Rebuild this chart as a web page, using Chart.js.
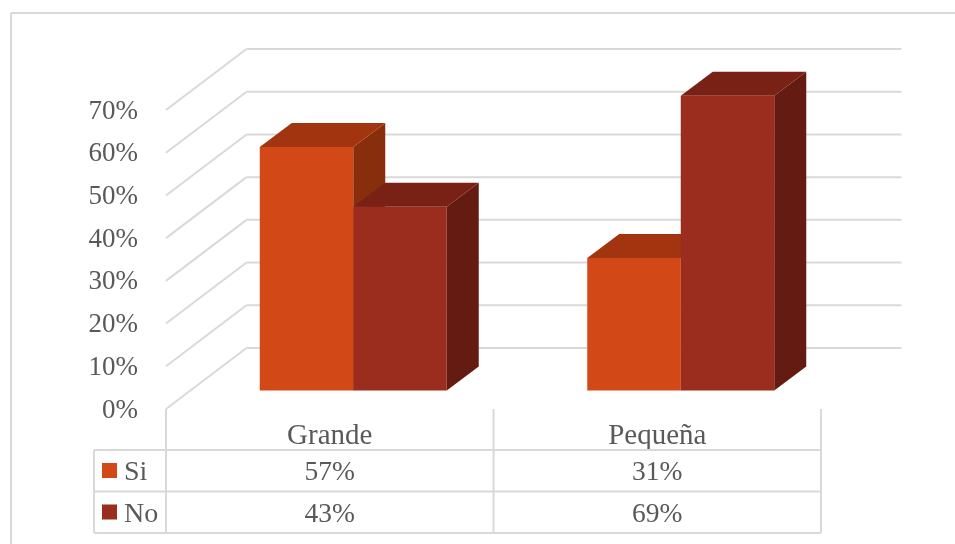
<!DOCTYPE html>
<html lang="es">
<head>
<meta charset="utf-8">
<title>Grande / Pequeña</title>
<script src="https://cdn.jsdelivr.net/npm/chart.js@4"></script>
<style>
  html, body { margin: 0; padding: 0; background: #fff; }
  canvas { display: block; }
</style>
</head>
<body>
<canvas id="chart-bars" width="955" height="544"></canvas>
<script>
var categories = ["Grande", "Pequeña"];
var valuesSi = [57, 31];
var valuesNo = [43, 69];
var yTicks = [0, 10, 20, 30, 40, 50, 60, 70];

var TEXT = "#595959";
var LINE = "#d9d9d9";
var FONT = "'Liberation Serif', serif";

// front, top and side colour of each series
var faces = [
  { front: "#d34817", top: "#a2350f", side: "#892e0c" },
  { front: "#9b2d1f", top: "#7a2116", side: "#641b12" }
];

// how far the bars and the back wall sit from the front plane
var barShift = { x: 23.5, y: -18.5 };
var barDepth = { x: 32, y: -24 };
var wallShift = { x: 80.5, y: -61 };

function line(ctx, x1, y1, x2, y2, width) {
  ctx.lineWidth = width;
  ctx.beginPath();
  ctx.moveTo(x1, y1);
  ctx.lineTo(x2, y2);
  ctx.stroke();
}

function poly(ctx, pts, color) {
  ctx.fillStyle = color;
  ctx.beginPath();
  ctx.moveTo(pts[0][0], pts[0][1]);
  for (var i = 1; i < pts.length; i++) {
    ctx.lineTo(pts[i][0], pts[i][1]);
  }
  ctx.closePath();
  ctx.fill();
}

// walls and the top/side faces go under the bars, the bars get moved back
var depthPlugin = {
  id: "depth",
  beforeDatasetsDraw: function(chart) {
    var ctx = chart.ctx;
    var area = chart.chartArea;
    var y = chart.scales.y;

    ctx.save();
    ctx.strokeStyle = LINE;
    yTicks.forEach(function(t) {
      var py = y.getPixelForValue(t);
      line(ctx, area.left, py, area.left + wallShift.x, py + wallShift.y, 2);
      line(ctx, area.left + wallShift.x, py + wallShift.y, area.right + wallShift.x, py + wallShift.y, 2);
    });

    ctx.translate(barShift.x, barShift.y);
    chart.data.datasets.forEach(function(ds, i) {
      chart.getDatasetMeta(i).data.forEach(function(bar) {
        var l = bar.x - bar.width / 2;
        var r = bar.x + bar.width / 2;
        var dx = barDepth.x;
        var dy = barDepth.y;
        poly(ctx, [[r, bar.y], [r + dx, bar.y + dy], [r + dx, bar.base + dy], [r, bar.base]], faces[i].side);
        poly(ctx, [[l, bar.y], [l + dx, bar.y + dy], [r + dx, bar.y + dy], [r, bar.y]], faces[i].top);
      });
    });
    ctx.restore();

    ctx.save();
    ctx.translate(barShift.x, barShift.y);
  },
  afterDatasetsDraw: function(chart) {
    chart.ctx.restore();
  },
  afterDraw: function(chart) {
    var ctx = chart.ctx;
    var x = chart.scales.x;
    var area = chart.chartArea;
    var rows = [
      { name: "Si", values: valuesSi, color: faces[0].front, top: 450, base: 480 },
      { name: "No", values: valuesNo, color: faces[1].front, top: 491.5, base: 522 }
    ];
    var tableLeft = 94;
    var tableBottom = 533;
    var band = x.getPixelForValue(1) - x.getPixelForValue(0);

    ctx.save();
    ctx.strokeStyle = LINE;

    // outer frame of the chart
    line(ctx, 11, 13, 955, 13, 2);
    line(ctx, 11, 13, 11, 544, 2);

    // data table grid
    rows.forEach(function(row) {
      line(ctx, tableLeft, row.top, area.right, row.top, 2);
    });
    line(ctx, tableLeft, tableBottom, area.right, tableBottom, 2);
    line(ctx, tableLeft, rows[0].top, tableLeft, tableBottom, 2);
    for (var c = 0; c <= categories.length; c++) {
      var vx = area.left + c * band;
      line(ctx, vx, area.bottom, vx, tableBottom, 2);
    }

    // legend keys and values
    ctx.textBaseline = "alphabetic";
    rows.forEach(function(row) {
      ctx.fillStyle = row.color;
      ctx.fillRect(102, row.top + 13, 15, 15);
      ctx.fillStyle = TEXT;
      ctx.textAlign = "left";
      ctx.font = "28px " + FONT;
      ctx.fillText(row.name, 124, row.base);
      ctx.textAlign = "center";
      ctx.font = "27.5px " + FONT;
      row.values.forEach(function(v, i) {
        ctx.fillText(v + "%", x.getPixelForValue(i), row.base);
      });
    });
    ctx.restore();
  }
};

new Chart(document.getElementById("chart-bars").getContext("2d"), {
  type: "bar",
  data: {
    labels: categories,
    datasets: [
      { label: "Si", data: valuesSi, backgroundColor: faces[0].front, clip: false },
      { label: "No", data: valuesNo, backgroundColor: faces[1].front, clip: false }
    ]
  },
  options: {
    responsive: false,
    animation: false,
    categoryPercentage: 0.571,
    barPercentage: 1,
    layout: { padding: { top: 110, right: 134, bottom: 0, left: 0 } },
    plugins: {
      legend: { display: false },
      tooltip: { enabled: false }
    },
    scales: {
      x: {
        grid: { display: false, drawTicks: false },
        border: { display: false },
        ticks: { color: TEXT, font: { family: FONT, size: 29 }, padding: 10, maxRotation: 0 },
        afterFit: function(scale) { scale.height = 135; }
      },
      y: {
        min: 0,
        max: 70,
        grid: { display: false, drawTicks: false },
        border: { display: false },
        ticks: {
          stepSize: 10,
          color: TEXT,
          font: { family: FONT, size: 27 },
          padding: 28,
          labelOffset: 1.5,
          callback: function(v) { return v + "%"; }
        },
        afterFit: function(scale) { scale.width = 166; }
      }
    }
  },
  plugins: [depthPlugin]
});
</script>
</body>
</html>
